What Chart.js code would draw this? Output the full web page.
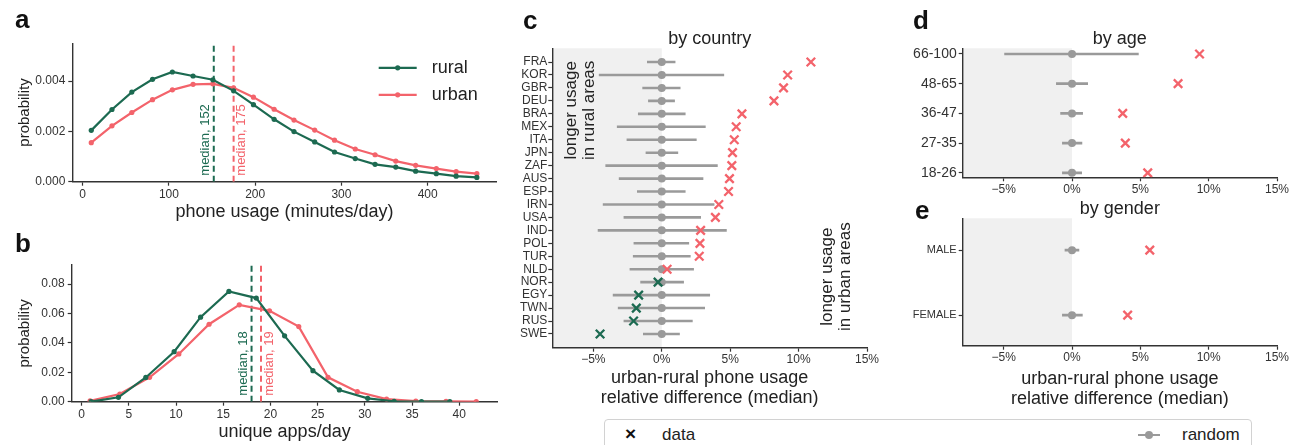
<!DOCTYPE html>
<html lang="en">
<head>
<meta charset="UTF-8">
<title>Urban-rural phone usage</title>
<script src="https://cdn.jsdelivr.net/npm/chart.js"></script>
<style>
  body { margin: 0; background: #fff; font-family: "Liberation Sans", Arial, sans-serif; }
  #wrap { position: relative; width: 1295px; height: 445px; overflow: hidden; }
  #wrap canvas { position: absolute; left: 0; top: 0; }
  .letter { position: absolute; font-weight: bold; font-size: 26px; line-height: 1; color: #111; }
  .legend { position: absolute; left: 604px; top: 419px; width: 646px; height: 40px;
    border: 1.5px solid #d2d2d2; border-radius: 4px; background: #fff; }
  .legend span { position: absolute; top: 5px; font-size: 17px; color: #222; }
  .legend .mark { font-size: 19px; font-weight: bold; color: #111; top: 3px; }
  .legend .rnd { top: 14px; width: 22px; height: 2px; background: #9a9a9a; }
  .legend .rnd::after { content: ""; position: absolute; left: 7px; top: -3px; width: 8px; height: 8px;
    border-radius: 50%; background: #9a9a9a; }
</style>
</head>
<body>
<div id="wrap">
  <div class="letter" style="left:15px; top:6px">a</div>
  <div class="letter" style="left:15px; top:230px">b</div>
  <div class="letter" style="left:523px; top:7px">c</div>
  <div class="letter" style="left:913px; top:7px">d</div>
  <div class="letter" style="left:915px; top:197px">e</div>
  <div class="legend">
    <span class="mark" style="left:20px">×</span>
    <span style="left:57px">data</span>
    <span class="rnd" style="left:533px"></span>
    <span style="left:577px">random</span>
  </div>
</div>

<script>
  const W = 1295, H = 445;
  const GREEN = '#1c6a51';
  const RED = '#f3636b';
  const GRAY = '#9a9a9a';
  const SHADE = '#f0f0f0';
  const INK = '#333';
  const FONT = "'Liberation Sans', Arial, sans-serif";

  // a: phone usage distribution
  const usageBins = [10, 34, 57, 81, 104, 128, 151, 175, 198, 222, 245, 269, 292, 316, 339, 363, 386, 410, 433, 457];
  const usageRural = [0.00204, 0.00287, 0.00356, 0.00407, 0.00436, 0.0042, 0.00405, 0.00361, 0.00306, 0.00248,
                      0.00199, 0.00158, 0.00118, 0.00092, 0.00069, 0.00058, 0.00042, 0.00032, 0.00022, 0.00017];
  const usageUrban = [0.00155, 0.00222, 0.00275, 0.00326, 0.00365, 0.00387, 0.00389, 0.00373, 0.00336, 0.00288,
                      0.00245, 0.00205, 0.00165, 0.0013, 0.00107, 0.00082, 0.00065, 0.00052, 0.0004, 0.00032];
  const usageMedians = [152, 175];
  const usageTicksX = [0, 100, 200, 300, 400];
  const usageTicksY = [0, 0.002, 0.004];
  const usageMaxY = 0.0055;

  // b: unique apps distribution
  const appsBinsRural = [1.0, 3.9, 6.8, 9.8, 12.6, 15.6, 18.5, 21.5, 24.5, 27.3, 30.3, 33.1, 36.0, 39.0];
  const appsRural = [0.0, 0.003, 0.0165, 0.034, 0.0575, 0.075, 0.0705, 0.0448, 0.0211, 0.008, 0.0023, 0.0003, 0.0001, 0.0];
  const appsBinsUrban = [0.9, 4.05, 7.2, 10.3, 13.5, 16.7, 19.9, 23.0, 26.1, 29.2, 32.3, 35.4, 38.6, 41.8];
  const appsUrban = [0.0006, 0.0052, 0.0166, 0.0325, 0.0527, 0.0659, 0.0618, 0.0511, 0.0166, 0.0068, 0.0018, 0.0004, 0.0002, 0.0001];
  const appsMedians = [18, 19];
  const appsTicksX = [0, 5, 10, 15, 20, 25, 30, 35, 40];
  const appsTicksY = [0, 0.02, 0.04, 0.06, 0.08];
  const appsMaxY = 0.093;

  // c: by country
  const countries = ['FRA', 'KOR', 'GBR', 'DEU', 'BRA', 'MEX', 'ITA', 'JPN', 'ZAF', 'AUS', 'ESP',
                     'IRN', 'USA', 'IND', 'POL', 'TUR', 'NLD', 'NOR', 'EGY', 'TWN', 'RUS', 'SWE'];
  const countryDiff = [10.9, 9.2, 8.9, 8.2, 5.86, 5.44, 5.3, 5.17, 5.12, 4.95, 4.88,
                       4.17, 3.92, 2.84, 2.79, 2.74, 0.39, -0.27, -1.69, -1.86, -2.06, -4.51];
  const countryRandLo = [-1.08, -4.6, -1.42, -1.0, -1.74, -3.28, -2.57, -1.18, -4.12, -3.14, -1.81,
                         -4.31, -2.79, -4.68, -2.06, -2.11, -2.35, -1.57, -3.58, -3.21, -2.79, -1.37];
  const countryRandHi = [1.0, 4.56, 1.37, 0.96, 1.74, 3.21, 2.55, 1.2, 4.09, 3.04, 1.74,
                         3.85, 2.87, 4.75, 2.0, 2.11, 2.35, 1.62, 3.53, 3.16, 2.26, 1.32];
  const countryRandMid = [0, 0, 0, 0, 0, 0, 0, 0, 0, 0, 0, 0, 0, 0, 0, 0, 0, 0, 0, 0, 0, 0];

  // d: by age
  const ages = ['66-100', '48-65', '36-47', '27-35', '18-26'];
  const ageDiff = [9.33, 7.76, 3.71, 3.9, 5.54];
  const ageRandLo = [-4.96, -1.17, -0.86, -0.73, -0.73];
  const ageRandHi = [4.88, 1.17, 0.8, 0.75, 0.73];
  const ageRandMid = [0, 0, 0, 0, 0];

  // e: by gender
  const genders = ['MALE', 'FEMALE'];
  const genderDiff = [5.69, 4.07];
  const genderRandLo = [-0.54, -0.73];
  const genderRandHi = [0.53, 0.78];
  const genderRandMid = [0, 0];

  const pctTicks = [-5, 0, 5, 10, 15];

  Chart.defaults.font.family = FONT;
  Chart.defaults.color = INK;
  Chart.defaults.animation = false;

  function makeCanvas() {
    const c = document.createElement('canvas');
    c.width = W;
    c.height = H;
    document.getElementById('wrap').insertBefore(c, document.getElementById('wrap').firstChild);
    return c.getContext('2d');
  }

  // layout padding that puts the plot area at a fixed spot on the page
  function pad(area, yW, xH, titleH) {
    return { left: area.l - yW, top: area.t - titleH, right: W - area.r, bottom: H - area.b - xH };
  }

  function axis(pos, o) {
    const s = {
      type: 'linear', position: pos, min: o.min, max: o.max, reverse: !!o.reverse,
      afterBuildTicks: sc => { sc.ticks = o.ticks.map(v => ({ value: v })); },
      afterFit: sc => { if (pos === 'bottom') sc.height = o.box; else sc.width = o.box; },
      grid: { drawOnChartArea: false, drawTicks: true, tickLength: 4, tickColor: INK, tickWidth: 1.2 },
      border: { display: true, color: INK, width: 1.4 },
      ticks: { callback: o.fmt, font: { size: o.size || 12 }, color: INK, padding: o.padding ?? 2,
               maxRotation: 0, autoSkip: false },
      title: { display: false }
    };
    if (o.title) {
      s.title = { display: true, text: o.title, color: '#222', padding: 0,
                  font: { size: o.titleSize || 18, lineHeight: o.titleLH || 1.08 } };
    }
    return s;
  }

  const pctFmt = v => (v < 0 ? '\u2212' + (-v) : v) + '%';

  function curve(label, xs, ys, color) {
    return { label, data: xs.map((x, i) => ({ x, y: ys[i] })), showLine: true,
             borderColor: color, backgroundColor: color, borderWidth: 2.2,
             pointRadius: 2.6, pointBorderWidth: 0 };
  }

  function medianLine(m, top, color) {
    return { data: [{ x: m, y: 0 }, { x: m, y: top }], showLine: true, borderColor: color,
             borderWidth: 2, borderDash: [6, 4], pointRadius: 0 };
  }

  function medianText(meds, colors) {
    return {
      id: 'medianText',
      afterDatasetsDraw(chart) {
        const { ctx, scales: { x, y } } = chart;
        ctx.save();
        ctx.font = `13px ${FONT}`;
        ctx.textAlign = 'left';
        ctx.textBaseline = 'middle';
        meds.forEach((m, i) => {
          ctx.save();
          ctx.translate(x.getPixelForValue(m) + (i === 0 ? -8 : 8), y.bottom - 6);
          ctx.rotate(-Math.PI / 2);
          ctx.fillStyle = colors[i];
          ctx.fillText('median, ' + m, 0, 0);
          ctx.restore();
        });
        ctx.restore();
      }
    };
  }

  const distLegend = {
    id: 'distLegend',
    afterDraw(chart) {
      const { ctx, chartArea: a } = chart;
      const items = [['rural', GREEN, 24.5], ['urban', RED, 51.5]];
      ctx.save();
      ctx.font = `18px ${FONT}`;
      ctx.textBaseline = 'middle';
      items.forEach(([name, color, dy]) => {
        const y = a.top + dy, x0 = a.right - 118;
        ctx.strokeStyle = color; ctx.fillStyle = color; ctx.lineWidth = 2.2;
        ctx.beginPath(); ctx.moveTo(x0, y); ctx.lineTo(x0 + 38, y); ctx.stroke();
        ctx.beginPath(); ctx.arc(x0 + 19, y, 2.6, 0, Math.PI * 2); ctx.fill();
        ctx.fillStyle = '#222';
        ctx.fillText(name, a.right - 65, y);
      });
      ctx.restore();
    }
  };

  const shadeNegative = {
    id: 'shadeNegative',
    beforeDraw(chart) {
      const { ctx, chartArea: a, scales: { x } } = chart;
      ctx.save();
      ctx.fillStyle = SHADE;
      ctx.fillRect(a.left, a.top, x.getPixelForValue(0) - a.left, a.bottom - a.top);
      ctx.restore();
    }
  };

  const countryNotes = {
    id: 'countryNotes',
    afterDraw(chart) {
      const { ctx, chartArea: a } = chart;
      const put = (t, x, y) => {
        ctx.save(); ctx.translate(x, y); ctx.rotate(-Math.PI / 2); ctx.fillText(t, 0, 0); ctx.restore();
      };
      ctx.save();
      ctx.fillStyle = '#222';
      ctx.font = `17px ${FONT}`;
      ctx.textAlign = 'center';
      ctx.textBaseline = 'middle';
      put('longer usage', a.left + 19.5, a.top + 62);
      put('in rural areas', a.left + 37.5, a.top + 62);
      put('longer usage', a.right - 40, a.bottom - 71);
      put('in urban areas', a.right - 22, a.bottom - 71);
      ctx.restore();
    }
  };

  // datasets for the comparison panels: data marks, random median dots, random ranges
  function compareSets(diff, lo, hi, mid) {
    return [
      { data: diff.map((v, i) => ({ x: v, y: i })), pointStyle: 'crossRot', pointRadius: 6,
        pointBorderWidth: 2.3, pointBorderColor: diff.map(v => v < 0 ? GREEN : RED), backgroundColor: 'transparent' },
      { data: mid.map((v, i) => ({ x: v, y: i })), pointRadius: 4, pointBorderWidth: 0,
        backgroundColor: GRAY },
      { data: lo.flatMap((v, i) => [{ x: v, y: i }, { x: hi[i], y: i }, { x: null, y: null }]),
        showLine: true, spanGaps: false, borderColor: GRAY, borderWidth: 2.6, pointRadius: 0 }
    ];
  }

  const baseOpts = {
    responsive: false,
    events: [],
    plugins: { legend: { display: false }, tooltip: { enabled: false } }
  };

  function titled(text) {
    return { display: true, text, fullSize: false, color: '#222', padding: { top: 0, bottom: 0 },
             font: { size: 18, weight: 'normal', lineHeight: 1 } };
  }

  // ---- panel a
  const areaA = { l: 72.3, r: 496.7, t: 43.3, b: 181.7 };
  new Chart(makeCanvas(), {
    type: 'scatter',
    data: { datasets: [
      curve('rural', usageBins, usageRural, GREEN),
      curve('urban', usageBins, usageUrban, RED),
      medianLine(usageMedians[0], usageMaxY, GREEN),
      medianLine(usageMedians[1], usageMaxY, RED)
    ] },
    options: { ...baseOpts,
      layout: { padding: pad(areaA, 55.9, 40.5, 0) },
      scales: {
        x: axis('bottom', { min: -12, max: 480, ticks: usageTicksX, fmt: v => v, box: 40.5,
                            title: 'phone usage (minutes/day)' }),
        y: axis('left', { min: 0, max: usageMaxY, ticks: usageTicksY, fmt: v => v.toFixed(3), box: 55.9,
                          padding: 3, title: 'probability', titleSize: 15, titleLH: 1.15 })
      }
    },
    plugins: [distLegend, medianText(usageMedians, [GREEN, RED])]
  });

  // ---- panel b
  const areaB = { l: 71.7, r: 497.5, t: 265, b: 401.7 };
  new Chart(makeCanvas(), {
    type: 'scatter',
    data: { datasets: [
      curve('rural', appsBinsRural, appsRural, GREEN),
      curve('urban', appsBinsUrban, appsUrban, RED),
      medianLine(appsMedians[0], appsMaxY, GREEN),
      medianLine(appsMedians[1], appsMaxY, RED)
    ] },
    options: { ...baseOpts,
      layout: { padding: pad(areaB, 55.3, 39.7, 0) },
      scales: {
        x: axis('bottom', { min: -1.05, max: 44.05, ticks: appsTicksX, fmt: v => v, box: 39.7,
                            title: 'unique apps/day' }),
        y: axis('left', { min: 0, max: appsMaxY, ticks: appsTicksY, fmt: v => v.toFixed(2), box: 55.3,
                          padding: 3, title: 'probability', titleSize: 15, titleLH: 1.15 })
      }
    },
    plugins: [medianText(appsMedians, [GREEN, RED])]
  });

  // ---- panel c
  const areaC = { l: 552.3, r: 867, t: 48.3, b: 347.7 };
  new Chart(makeCanvas(), {
    type: 'scatter',
    data: { datasets: compareSets(countryDiff, countryRandLo, countryRandHi, countryRandMid) },
    options: { ...baseOpts,
      layout: { padding: pad(areaC, 50, 59.8, 18) },
      plugins: { ...baseOpts.plugins, title: titled('by country') },
      scales: {
        x: axis('bottom', { min: -8, max: 15, ticks: pctTicks, fmt: pctFmt, box: 59.8, padding: 1,
                            title: ['urban-rural phone usage', 'relative difference (median)'] }),
        y: axis('left', { min: -1.06, max: 22.06, reverse: true, ticks: countries.map((_, i) => i),
                          fmt: v => countries[v], box: 50, size: 12, padding: 1 })
      }
    },
    plugins: [shadeNegative, countryNotes]
  });

  // ---- panel d
  const areaD = { l: 962.7, r: 1277, t: 48.3, b: 177.3 };
  new Chart(makeCanvas(), {
    type: 'scatter',
    data: { datasets: compareSets(ageDiff, ageRandLo, ageRandHi, ageRandMid) },
    options: { ...baseOpts,
      layout: { padding: pad(areaD, 60, 20, 18) },
      plugins: { ...baseOpts.plugins, title: titled('by age') },
      scales: {
        x: axis('bottom', { min: -8, max: 15, ticks: pctTicks, fmt: pctFmt, box: 20, padding: 1 }),
        y: axis('left', { min: -0.19, max: 4.15, reverse: true, ticks: ages.map((_, i) => i),
                          fmt: v => ages[v], box: 60, size: 14, padding: 2 })
      }
    },
    plugins: [shadeNegative]
  });

  // ---- panel e
  const areaE = { l: 962.7, r: 1277, t: 218.3, b: 345.7 };
  new Chart(makeCanvas(), {
    type: 'scatter',
    data: { datasets: compareSets(genderDiff, genderRandLo, genderRandHi, genderRandMid) },
    options: { ...baseOpts,
      layout: { padding: pad(areaE, 60, 62.8, 18) },
      plugins: { ...baseOpts.plugins, title: titled('by gender') },
      scales: {
        x: axis('bottom', { min: -8, max: 15, ticks: pctTicks, fmt: pctFmt, box: 62.8, padding: 1,
                            title: ['urban-rural phone usage', 'relative difference (median)'] }),
        y: axis('left', { min: -0.49, max: 1.47, reverse: true, ticks: genders.map((_, i) => i),
                          fmt: v => genders[v], box: 60, size: 11, padding: 2 })
      }
    },
    plugins: [shadeNegative]
  });
</script>
</body>
</html>
